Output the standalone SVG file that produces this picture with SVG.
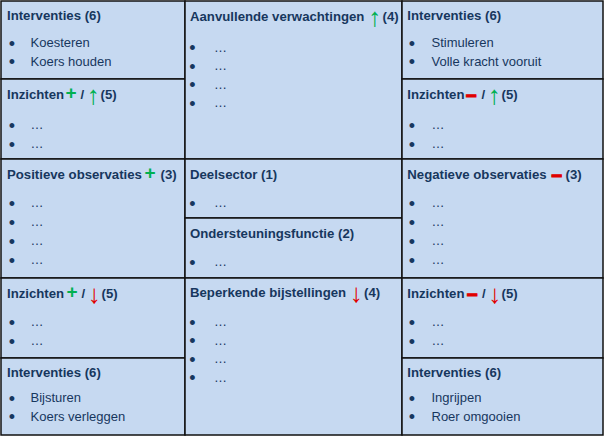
<svg xmlns="http://www.w3.org/2000/svg" width="605" height="437" viewBox="0 0 605 437">
<style>
.cell{fill:#C6D9F1;stroke:#111;stroke-width:1.5}
text{font-family:"Liberation Sans",Arial,sans-serif;fill:#17375E}
.t{font-weight:bold;font-size:13.2px}
.b{font-size:13px}
.d{font-size:18px}
.e{font-size:13px}
.g{fill:#00B050}
.r{fill:#E00000}
.sym{font-weight:bold;font-size:19px}
.mn{font-weight:bold;font-size:19px;stroke:#E00000;stroke-width:1.1}
.ar{font-size:26px;font-weight:normal}
</style>
<rect x="0" y="0" width="605" height="437" fill="#ffffff"/>

<g id="left-interventies-top">
<rect class="cell" x="1" y="1" width="184" height="78"/>
<text class="t" x="7" y="20">Interventies (6)</text>
<text class="d" x="8.8" y="49.5">•</text><text class="b" x="30.5" y="47">Koesteren</text>
<text class="d" x="8.8" y="68">•</text><text class="b" x="30.5" y="65.5">Koers houden</text>
</g>

<g id="left-inzichten-up">
<rect class="cell" x="1" y="79" width="184" height="80"/>
<text class="t" x="7" y="99">Inzichten<tspan class="sym g" x="65.5">+</tspan><tspan x="80.5">/</tspan><tspan class="ar g" x="86.8" dy="5">↑</tspan><tspan x="100.5" dy="-5">(5)</tspan></text>
<text class="d" x="8.8" y="131.5">•</text><text class="e" x="30.5" y="129">…</text>
<text class="d" x="8.8" y="150.5">•</text><text class="e" x="30.5" y="148">…</text>
</g>

<g id="left-positieve-observaties">
<rect class="cell" x="1" y="159" width="184" height="119"/>
<text class="t" x="7" y="179">Positieve observaties<tspan class="sym g" x="144.5">+</tspan><tspan x="160.5">(3)</tspan></text>
<text class="d" x="8.8" y="209.5">•</text><text class="e" x="30.5" y="207">…</text>
<text class="d" x="8.8" y="228.5">•</text><text class="e" x="30.5" y="226">…</text>
<text class="d" x="8.8" y="247.5">•</text><text class="e" x="30.5" y="245">…</text>
<text class="d" x="8.8" y="266.5">•</text><text class="e" x="30.5" y="264">…</text>
</g>

<g id="left-inzichten-down">
<rect class="cell" x="1" y="278" width="184" height="80"/>
<text class="t" x="7" y="298">Inzichten<tspan class="sym g" x="66.5">+</tspan><tspan x="81.5">/</tspan><tspan class="ar r" x="87.8" dy="5">↓</tspan><tspan x="101.5" dy="-5">(5)</tspan></text>
<text class="d" x="8.8" y="328.5">•</text><text class="e" x="30.5" y="326">…</text>
<text class="d" x="8.8" y="347.5">•</text><text class="e" x="30.5" y="345">…</text>
</g>

<g id="left-interventies-bottom">
<rect class="cell" x="1" y="358" width="184" height="77"/>
<text class="t" x="7" y="377">Interventies (6)</text>
<text class="d" x="8.8" y="404.5">•</text><text class="b" x="30.5" y="402">Bijsturen</text>
<text class="d" x="8.8" y="423">•</text><text class="b" x="30.5" y="420.5">Koers verleggen</text>
</g>

<g id="mid-aanvullende-verwachtingen">
<rect class="cell" x="185" y="1" width="217" height="158"/>
<text class="t" x="190" y="21">Aanvullende verwachtingen<tspan class="ar g" x="368.3" dy="5">↑</tspan><tspan x="382.5" dy="-5">(4)</tspan></text>
<text class="d" x="189.3" y="54">•</text><text class="e" x="214" y="51.5">…</text>
<text class="d" x="189.3" y="72.5">•</text><text class="e" x="214" y="70">…</text>
<text class="d" x="189.3" y="91">•</text><text class="e" x="214" y="88.5">…</text>
<text class="d" x="189.3" y="109.5">•</text><text class="e" x="214" y="107">…</text>
</g>

<g id="mid-deelsector">
<rect class="cell" x="185" y="159" width="217" height="59"/>
<text class="t" x="190" y="179">Deelsector (1)</text>
<text class="d" x="189.3" y="209.5">•</text><text class="e" x="214" y="207">…</text>
</g>

<g id="mid-ondersteuningsfunctie">
<rect class="cell" x="185" y="218" width="217" height="60"/>
<text class="t" x="190" y="237.5">Ondersteuningsfunctie (2)</text>
<text class="d" x="189.3" y="268.5">•</text><text class="e" x="214" y="266">…</text>
</g>

<g id="mid-beperkende-bijstellingen">
<rect class="cell" x="185" y="278" width="217" height="157"/>
<text class="t" x="190" y="297">Beperkende bijstellingen<tspan class="ar r" x="349.8" dy="5">↓</tspan><tspan x="364" dy="-5">(4)</tspan></text>
<text class="d" x="189.3" y="328.5">•</text><text class="e" x="214" y="326">…</text>
<text class="d" x="189.3" y="347">•</text><text class="e" x="214" y="344.5">…</text>
<text class="d" x="189.3" y="365.5">•</text><text class="e" x="214" y="363">…</text>
<text class="d" x="189.3" y="384">•</text><text class="e" x="214" y="381.5">…</text>
</g>

<g id="right-interventies-top">
<rect class="cell" x="402" y="1" width="201" height="78"/>
<text class="t" x="407.3" y="20">Interventies (6)</text>
<text class="d" x="408.8" y="49.5">•</text><text class="b" x="431.5" y="47">Stimuleren</text>
<text class="d" x="408.8" y="68">•</text><text class="b" x="431.5" y="65.5">Volle kracht vooruit</text>
</g>

<g id="right-inzichten-up">
<rect class="cell" x="402" y="79" width="201" height="80"/>
<text class="t" x="407.3" y="99">Inzichten<tspan class="mn r" x="465.5" dy="2.5">−</tspan><tspan x="481.5" dy="-2.5">/</tspan><tspan class="ar g" x="487.8" dy="5">↑</tspan><tspan x="501.5" dy="-5">(5)</tspan></text>
<text class="d" x="408.8" y="131.5">•</text><text class="e" x="431.5" y="129">…</text>
<text class="d" x="408.8" y="150.5">•</text><text class="e" x="431.5" y="148">…</text>
</g>

<g id="right-negatieve-observaties">
<rect class="cell" x="402" y="159" width="201" height="119"/>
<text class="t" x="407.3" y="179">Negatieve observaties<tspan class="mn r" x="551" dy="2.5">−</tspan><tspan x="565.5" dy="-2.5">(3)</tspan></text>
<text class="d" x="408.8" y="209.5">•</text><text class="e" x="431.5" y="207">…</text>
<text class="d" x="408.8" y="228.5">•</text><text class="e" x="431.5" y="226">…</text>
<text class="d" x="408.8" y="247.5">•</text><text class="e" x="431.5" y="245">…</text>
<text class="d" x="408.8" y="266.5">•</text><text class="e" x="431.5" y="264">…</text>
</g>

<g id="right-inzichten-down">
<rect class="cell" x="402" y="278" width="201" height="80"/>
<text class="t" x="407.3" y="298">Inzichten<tspan class="mn r" x="466.5" dy="2.5">−</tspan><tspan x="482" dy="-2.5">/</tspan><tspan class="ar r" x="488.3" dy="5">↓</tspan><tspan x="501.5" dy="-5">(5)</tspan></text>
<text class="d" x="408.8" y="328.5">•</text><text class="e" x="431.5" y="326">…</text>
<text class="d" x="408.8" y="347.5">•</text><text class="e" x="431.5" y="345">…</text>
</g>

<g id="right-interventies-bottom">
<rect class="cell" x="402" y="358" width="201" height="77"/>
<text class="t" x="407.3" y="377">Interventies (6)</text>
<text class="d" x="408.8" y="404.5">•</text><text class="b" x="431.5" y="402">Ingrijpen</text>
<text class="d" x="408.8" y="423">•</text><text class="b" x="431.5" y="420.5">Roer omgooien</text>
</g>

<g id="connectors"></g>
</svg>
